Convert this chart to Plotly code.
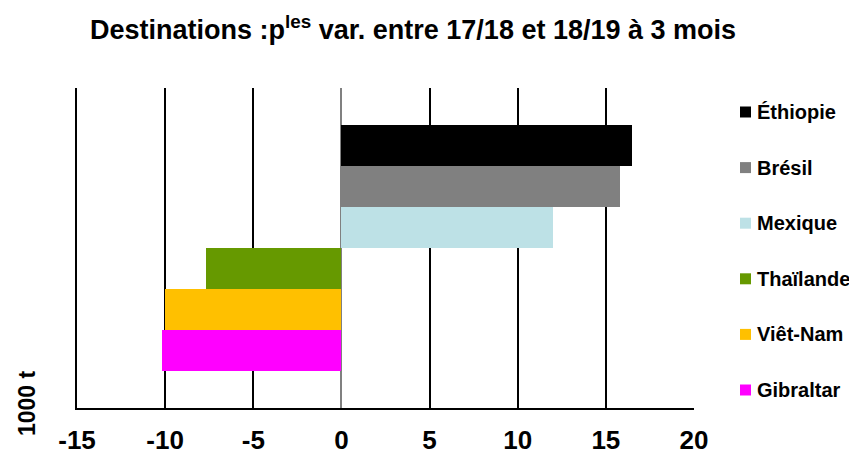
import plotly.graph_objects as go

# destinations, top to bottom as in the legend
countries = ["Éthiopie", "Brésil", "Mexique", "Thaïlande", "Viêt-Nam", "Gibraltar"]
variations = [16.5, 15.8, 12.0, -7.7, -10.0, -10.2]
colors = ["#000000", "#808080", "#BDE1E6", "#669900", "#FFC000", "#FF00FF"]
x_ticks = [-15, -10, -5, 0, 5, 10, 15, 20]

FONT = "Liberation Sans, Arial, sans-serif"

# the page puts the figure 8px in from the top-left corner,
# so the layout is built in screen pixels minus that offset
OFF = 8
W, H = 857 - OFF, 450 - OFF
PL, PR, PT, PB = 77 - OFF, 694 - OFF, 88 - OFF, 408 - OFF


def px_x(px):
    return (px - OFF - PL) / (PR - PL)


def px_y(py):
    return (PB - (py - OFF)) / (PB - PT)


fig = go.Figure()
for name, val, col in zip(countries, variations, colors):
    fig.add_trace(go.Bar(
        y=[name],
        x=[val],
        name=name,
        orientation="h",
        marker=dict(color=col, line=dict(width=0)),
        width=1,
        showlegend=False,
    ))

fig.update_layout(
    width=W,
    height=H,
    autosize=False,
    paper_bgcolor="white",
    plot_bgcolor="white",
    barmode="overlay",
    bargap=0,
    margin=dict(l=PL, r=W - PR, t=PT, b=H - PB, pad=0, autoexpand=False),
    font=dict(family=FONT, color="black"),
    title=dict(
        text="Destinations :p<sup>les</sup> var. entre 17/18 et 18/19 à 3 mois",
        x=(413 - OFF) / W,
        xanchor="center",
        y=1 - (30 - OFF) / H,
        yanchor="middle",
        automargin=False,
        font=dict(size=27, weight="bold", family=FONT),
    ),
    showlegend=False,
)

fig.update_xaxes(
    range=[-15, 20],
    tickvals=x_ticks,
    ticktext=[str(t) for t in x_ticks],
    automargin=False,
    showgrid=True,
    gridcolor="black",
    gridwidth=2,
    zeroline=True,
    zerolinecolor="#808080",
    zerolinewidth=2,
    showline=True,
    linecolor="black",
    linewidth=2,
    ticks="outside",
    ticklen=8,
    tickcolor="white",
    tickfont=dict(size=26, weight="bold", family=FONT),
    fixedrange=True,
)

fig.update_yaxes(
    type="category",
    categoryorder="array",
    categoryarray=countries[::-1],
    range=[-1.4, 6.4],
    automargin=False,
    showticklabels=False,
    showgrid=False,
    zeroline=False,
    showline=True,
    linecolor="black",
    linewidth=2,
    fixedrange=True,
)

# legend drawn by hand so it keeps the reference's spacing
for i, (name, col) in enumerate(zip(countries, colors)):
    cy = 112 + i * 55.6
    fig.add_shape(
        type="rect",
        xref="paper", yref="paper",
        x0=px_x(740), x1=px_x(751),
        y0=px_y(cy + 5.5), y1=px_y(cy - 5.5),
        fillcolor=col,
        line=dict(width=0),
    )
    fig.add_annotation(
        text=name,
        xref="paper", yref="paper",
        x=px_x(755), y=px_y(cy),
        xanchor="left", yanchor="middle",
        showarrow=False,
        font=dict(size=20, weight="bold", family=FONT),
    )

fig.add_annotation(
    text="1000 t",
    xref="paper",
    yref="paper",
    x=px_x(27),
    y=px_y(403),
    xanchor="center",
    yanchor="middle",
    textangle=-90,
    showarrow=False,
    font=dict(size=23, weight="bold", family=FONT),
)

fig.write_html("out.html")
